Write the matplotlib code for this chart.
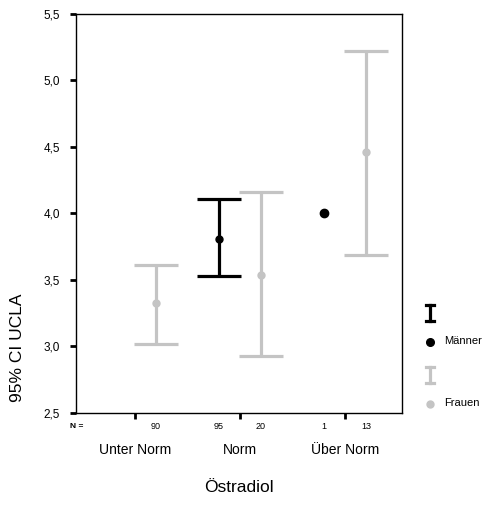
import numpy as np
import matplotlib.pyplot as plt

plt.rcParams['font.family'] = ['Liberation Sans', 'DejaVu Sans']

categories = ['Unter Norm', 'Norm', 'Über Norm']

# mean and 95% CI per group (nan = no CI / no cases)
men_mean = [np.nan, 3.81, 4.00]
men_lo = [np.nan, 3.53, np.nan]
men_hi = [np.nan, 4.11, np.nan]
men_n = [None, 95, 1]

women_mean = [3.33, 3.54, 4.46]
women_lo = [3.02, 2.93, 3.69]
women_hi = [3.61, 4.16, 5.22]
women_n = [90, 20, 13]

yticks = [2.5, 3.0, 3.5, 4.0, 4.5, 5.0, 5.5]

BLACK = '#000000'
GREY = '#c4c4c4'
off = 0.2

fig = plt.figure(figsize=(4.95, 5.12), dpi=100)
ax = fig.add_axes([0.1545, 0.1934, 0.6576, 0.7793])

x = np.arange(1, len(categories) + 1)

def draw_group(xpos, mean, lo, hi, color, ms):
    mean = np.array(mean, float)
    lo = np.array(lo, float)
    hi = np.array(hi, float)
    has_ci = ~np.isnan(lo)
    ax.errorbar(xpos[has_ci], (lo[has_ci] + hi[has_ci]) / 2,
                yerr=(hi[has_ci] - lo[has_ci]) / 2, fmt='none',
                ecolor=color, elinewidth=2.3, capsize=15.5, capthick=2.3,
                zorder=2)
    # mean points
    ok = ~np.isnan(mean)
    for xi, m, ci in zip(xpos[ok], mean[ok], has_ci[ok]):
        ax.plot(xi, m, 'o', color=color, ms=ms if ci else 6, mec=color,
                zorder=3)

draw_group(x + off, women_mean, women_lo, women_hi, GREY, 5)
draw_group(x - off, men_mean, men_lo, men_hi, BLACK, 5)

ax.set_xlim(0.443, 3.543)
ax.set_ylim(2.5, 5.5)
ax.set_yticks(yticks)
ax.set_yticklabels([('%.1f' % v).replace('.', ',') for v in yticks],
                   fontsize=8.5)
ax.set_xticks(x)
ax.set_xticklabels(categories, fontsize=10)
ax.tick_params(axis='y', length=4, width=2, pad=8)
ax.tick_params(axis='x', length=4, width=2, pad=17.5)
for s in ax.spines.values():
    s.set_linewidth(1)

# case counts below the axis
tr = ax.get_xaxis_transform()
for xi, n in zip(x, men_n):
    if n is not None:
        ax.text(xi - off, -0.033, str(n), transform=tr, ha='center',
                va='center', fontsize=6.5)
for xi, n in zip(x, women_n):
    ax.text(xi + off, -0.033, str(n), transform=tr, ha='center',
            va='center', fontsize=6.5)
fig.text(70 / 495, 1 - 426 / 512, 'N =', ha='left', va='center',
         fontsize=6, fontweight='bold')

fig.text(239 / 495, 1 - 487 / 512, 'Östradiol', ha='center', va='center',
         fontsize=12.5)
fig.text(18 / 495, 1 - 348 / 512, '95% CI UCLA', ha='center', va='center',
         rotation=90, fontsize=12.5)

# legend
lax = fig.add_axes([0, 0, 1, 1], facecolor='none')
lax.set_xlim(0, 495)
lax.set_ylim(512, 0)
lax.axis('off')
for color, y0, label, ms in [(BLACK, 305, 'Männer', 5.5), (GREY, 367, 'Frauen', 5)]:
    lax.plot([430, 430], [y0, y0 + 16], color=color, lw=2.3)
    lax.plot([426, 434], [y0, y0], color=color, lw=2.3)
    lax.plot([426, 434], [y0 + 16, y0 + 16], color=color, lw=2.3)
    lax.plot(430, y0 + 37, 'o', color=color, ms=ms)
    lax.text(444, y0 + 36, label, va='center', ha='left', fontsize=8)

fig.savefig('out.png', dpi=100)
